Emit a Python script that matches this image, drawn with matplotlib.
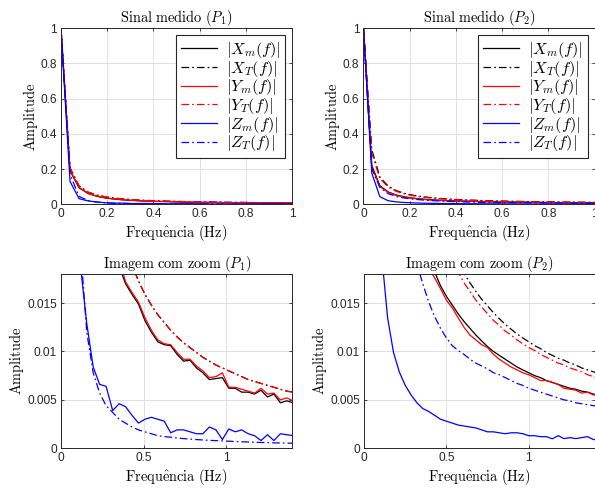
import matplotlib
matplotlib.use('Agg')
import matplotlib.pyplot as plt
from matplotlib.ticker import FuncFormatter

plt.rcParams['mathtext.fontset'] = 'cm'
plt.rcParams['font.family'] = ['Liberation Sans', 'DejaVu Sans']
plt.rcParams['lines.scale_dashes'] = False
plt.rcParams['axes.unicode_minus'] = False

# frequencias (Hz) -- ponto P1
f1 = [0, 0.039, 0.078, 0.117, 0.156, 0.195, 0.234, 0.273, 0.313, 0.352,
      0.391, 0.430, 0.469, 0.508, 0.547, 0.586, 0.625, 0.664, 0.703, 0.742,
      0.781, 0.820, 0.859, 0.898, 0.938, 0.977, 1.016, 1.055, 1.094, 1.133,
      1.172, 1.211, 1.250, 1.289, 1.328, 1.367, 1.406]

xm1 = [1.0, 0.19, 0.094, 0.061, 0.045, 0.035, 0.029, 0.0245, 0.0215,
       0.0188, 0.0170, 0.0159, 0.0149, 0.0132, 0.0120, 0.0110, 0.0107, 0.0106,
       0.0097, 0.0090, 0.0091, 0.0083, 0.0078, 0.0071, 0.0072, 0.0073, 0.0062,
       0.0062, 0.0058, 0.0058, 0.0056, 0.0060, 0.0053, 0.0056, 0.0047, 0.0049,
       0.0047]
xt1 = [1.0, 0.207, 0.104, 0.069, 0.052, 0.0415, 0.0346, 0.0297, 0.0259,
       0.0230, 0.0207, 0.0189, 0.0173, 0.0159, 0.0148, 0.0138, 0.0130, 0.0122,
       0.0115, 0.0109, 0.0104, 0.0099, 0.0094, 0.0090, 0.0086, 0.0083, 0.0080,
       0.0077, 0.0074, 0.0071, 0.0069, 0.0067, 0.0065, 0.0063, 0.0061, 0.0059,
       0.0058]
ym1 = [1.0, 0.195, 0.096, 0.062, 0.046, 0.036, 0.030, 0.025, 0.022,
       0.0195, 0.0172, 0.0161, 0.0151, 0.0135, 0.0122, 0.0112, 0.0108, 0.0107,
       0.0099, 0.0092, 0.0092, 0.0085, 0.0080, 0.0073, 0.0074, 0.0078, 0.0063,
       0.0063, 0.0061, 0.0059, 0.0057, 0.0062, 0.0056, 0.0057, 0.0050, 0.0052,
       0.0049]
yt1 = [1.0, 0.207, 0.104, 0.069, 0.052, 0.0415, 0.0346, 0.0297, 0.0259,
       0.0230, 0.0207, 0.0189, 0.0173, 0.0159, 0.0148, 0.0138, 0.0130, 0.0122,
       0.0115, 0.0109, 0.0104, 0.0099, 0.0094, 0.0090, 0.0086, 0.0083, 0.0080,
       0.0077, 0.0074, 0.0071, 0.0069, 0.0067, 0.0065, 0.0063, 0.0061, 0.0059,
       0.0058]
zm1 = [1.0, 0.13, 0.032, 0.019, 0.0129, 0.0084, 0.0066, 0.0064, 0.0039,
       0.0046, 0.0043, 0.0034, 0.0026, 0.0030, 0.0032, 0.0030, 0.0028, 0.0016,
       0.0019, 0.0019, 0.0017, 0.0015, 0.0015, 0.0022, 0.0019, 0.0009, 0.0020,
       0.0017, 0.0019, 0.0015, 0.0013, 0.0008, 0.0014, 0.0008, 0.0015, 0.0014,
       0.0013]
zt1 = [1.0, 0.17, 0.045, 0.021, 0.012, 0.0078, 0.0057, 0.0044, 0.0037,
       0.0030, 0.0026, 0.0022, 0.0019, 0.0017, 0.0015, 0.0013, 0.0012, 0.00115,
       0.00106, 0.0010, 0.00095, 0.0009, 0.00086, 0.00082, 0.00079, 0.00076,
       0.00073, 0.0007, 0.00067, 0.00065, 0.00062, 0.0006, 0.00058, 0.00056,
       0.00055, 0.00053, 0.00052]

# frequencias (Hz) -- ponto P2
f2 = [0, 0.036, 0.071, 0.107, 0.143, 0.179, 0.214, 0.250, 0.286, 0.321,
      0.357, 0.393, 0.429, 0.464, 0.500, 0.536, 0.571, 0.607, 0.643, 0.679,
      0.714, 0.750, 0.786, 0.821, 0.857, 0.893, 0.929, 0.964, 1.000, 1.036,
      1.071, 1.107, 1.143, 1.179, 1.214, 1.250, 1.286, 1.321, 1.357, 1.393,
      1.429]

xm2 = [1.0, 0.22, 0.105, 0.070, 0.052, 0.042, 0.035, 0.030, 0.0265, 0.0235,
       0.021, 0.0195, 0.0182, 0.0168, 0.0157, 0.0148, 0.0139, 0.0131, 0.0124,
       0.0117, 0.0111, 0.0105, 0.0100, 0.0096, 0.0092, 0.0088, 0.0084, 0.0081,
       0.0078, 0.0075, 0.0073, 0.0070, 0.0068, 0.0066, 0.0064, 0.0062, 0.0061,
       0.0059, 0.0058, 0.0056, 0.0055]
xt2 = [1.0, 0.31, 0.154, 0.103, 0.077, 0.0616, 0.0513, 0.044, 0.0385, 0.0342,
       0.0308, 0.028, 0.0257, 0.0237, 0.022, 0.0205, 0.0193, 0.0181, 0.0171,
       0.0162, 0.0154, 0.0147, 0.014, 0.0134, 0.0128, 0.0123, 0.0118, 0.0114,
       0.011, 0.0106, 0.0103, 0.0099, 0.0096, 0.0093, 0.0091, 0.0088, 0.0086,
       0.0083, 0.0081, 0.0079, 0.0077]
ym2 = [1.0, 0.21, 0.10, 0.068, 0.050, 0.040, 0.033, 0.028, 0.025, 0.022,
       0.020, 0.0186, 0.0176, 0.0165, 0.0153, 0.0145, 0.0135, 0.0125, 0.0117,
       0.0112, 0.0107, 0.0104, 0.0097, 0.0092, 0.0088, 0.0084, 0.0081, 0.0078,
       0.0076, 0.0073, 0.0070, 0.0070, 0.0068, 0.0066, 0.0062, 0.0061, 0.0060,
       0.0057, 0.0058, 0.0055, 0.0055]
yt2 = [1.0, 0.29, 0.146, 0.097, 0.073, 0.058, 0.0485, 0.0416, 0.0364, 0.0324,
       0.0291, 0.0265, 0.0243, 0.0224, 0.0208, 0.0194, 0.0182, 0.0171, 0.0162,
       0.0153, 0.0146, 0.0139, 0.0132, 0.0127, 0.0121, 0.0117, 0.0112, 0.0108,
       0.0104, 0.0101, 0.0097, 0.0094, 0.0091, 0.0088, 0.0086, 0.0083, 0.0081,
       0.0079, 0.0076, 0.0074, 0.0072]
zm2 = [1.0, 0.176, 0.043, 0.020, 0.0135, 0.0099, 0.0079, 0.0065, 0.0055,
       0.0047, 0.0041, 0.0038, 0.0034, 0.0030, 0.0028, 0.0026, 0.0024, 0.0023,
       0.0022, 0.0021, 0.0019, 0.0017, 0.0017, 0.0016, 0.0015, 0.0016, 0.0016,
       0.0015, 0.0013, 0.0013, 0.0012, 0.0012, 0.00098, 0.0013, 0.0010, 0.0011,
       0.0010, 0.0011, 0.0012, 0.0009, 0.0009]
zt2 = [1.0, 0.20, 0.095, 0.060, 0.044, 0.035, 0.029, 0.025, 0.0215, 0.019,
       0.0170, 0.0151, 0.0136, 0.0124, 0.0114, 0.0106, 0.0101, 0.0097, 0.0092,
       0.0088, 0.0085, 0.0082, 0.0078, 0.0076, 0.0073, 0.0070, 0.0067, 0.0065,
       0.0062, 0.0060, 0.0058, 0.0056, 0.0054, 0.0052, 0.0050, 0.0049, 0.0047,
       0.0046, 0.0045, 0.0044, 0.0043]

labels = [r'$|X_m(f)|$', r'$|X_T(f)|$', r'$|Y_m(f)|$',
          r'$|Y_T(f)|$', r'$|Z_m(f)|$', r'$|Z_T(f)|$']
colors = ['black', 'black', 'red', 'red', 'blue', 'blue']
dashdot = (0, (5.5, 2.2, 1.2, 2.2))
styles = ['-', dashdot, '-', dashdot, '-', dashdot]

fmt = FuncFormatter(lambda v, p: '%g' % v)


def panel(ax, f, series, xlim, ylim, xticks, yticks, title, legend=False):
    for vals, lab, c, ls in zip(series, labels, colors, styles):
        ax.plot(f, vals, color=c, linestyle=ls, linewidth=0.9, label=lab)
    ax.set_xlim(xlim)
    ax.set_ylim(ylim)
    ax.set_xticks(xticks)
    ax.set_yticks(yticks)
    ax.xaxis.set_major_formatter(fmt)
    ax.yaxis.set_major_formatter(fmt)
    ax.grid(True, color='#e0e0e0', linewidth=0.7)
    ax.set_axisbelow(True)
    ax.tick_params(direction='in', top=True, right=True, length=2.5,
                   width=0.6, labelsize=8.6, colors='#262626', pad=3)
    for s in ax.spines.values():
        s.set_linewidth(0.7)
        s.set_color('#262626')
    ax.set_title(title, fontsize=10.4, pad=4.5)
    ax.set_xlabel(r'$\mathrm{Frequ\hat{e}ncia\ (Hz)}$', fontsize=10.4,
                  labelpad=2)
    ax.set_ylabel(r'$\mathrm{Amplitude}$', fontsize=10.4, labelpad=0.5)
    if legend:
        leg = ax.legend(loc='upper right', fontsize=11.8, handlelength=2.2,
                        labelspacing=-0.08, borderaxespad=0.42,
                        fancybox=False, framealpha=1, edgecolor='#262626',
                        borderpad=0.3, handletextpad=0.55)
        leg.get_frame().set_linewidth(0.8)


fig = plt.figure(figsize=(5.95, 4.88), dpi=100)
ax1 = fig.add_axes([0.1025, 0.5814, 0.3887, 0.3607])
ax2 = fig.add_axes([0.6109, 0.5814, 0.3885, 0.3607])
ax3 = fig.add_axes([0.1025, 0.0814, 0.3887, 0.357])
ax4 = fig.add_axes([0.6118, 0.0814, 0.3876, 0.357])

s1 = [xm1, xt1, ym1, yt1, zm1, zt1]
s2 = [xm2, xt2, ym2, yt2, zm2, zt2]

panel(ax1, f1, s1, (0, 1), (0, 1), [0, 0.2, 0.4, 0.6, 0.8, 1],
      [0, 0.2, 0.4, 0.6, 0.8, 1], r'$\mathrm{Sinal\ medido\ }(P_1)$', True)
panel(ax2, f2, s2, (0, 1), (0, 1), [0, 0.2, 0.4, 0.6, 0.8, 1],
      [0, 0.2, 0.4, 0.6, 0.8, 1], r'$\mathrm{Sinal\ medido\ }(P_2)$', True)
panel(ax3, f1, s1, (0, 1.4), (0, 0.018), [0, 0.5, 1],
      [0, 0.005, 0.01, 0.015], r'$\mathrm{Imagem\ com\ zoom\ }(P_1)$')
panel(ax4, f2, s2, (0, 1.4), (0, 0.018), [0, 0.5, 1],
      [0, 0.005, 0.01, 0.015], r'$\mathrm{Imagem\ com\ zoom\ }(P_2)$')

fig.savefig('out.png', dpi=100)
